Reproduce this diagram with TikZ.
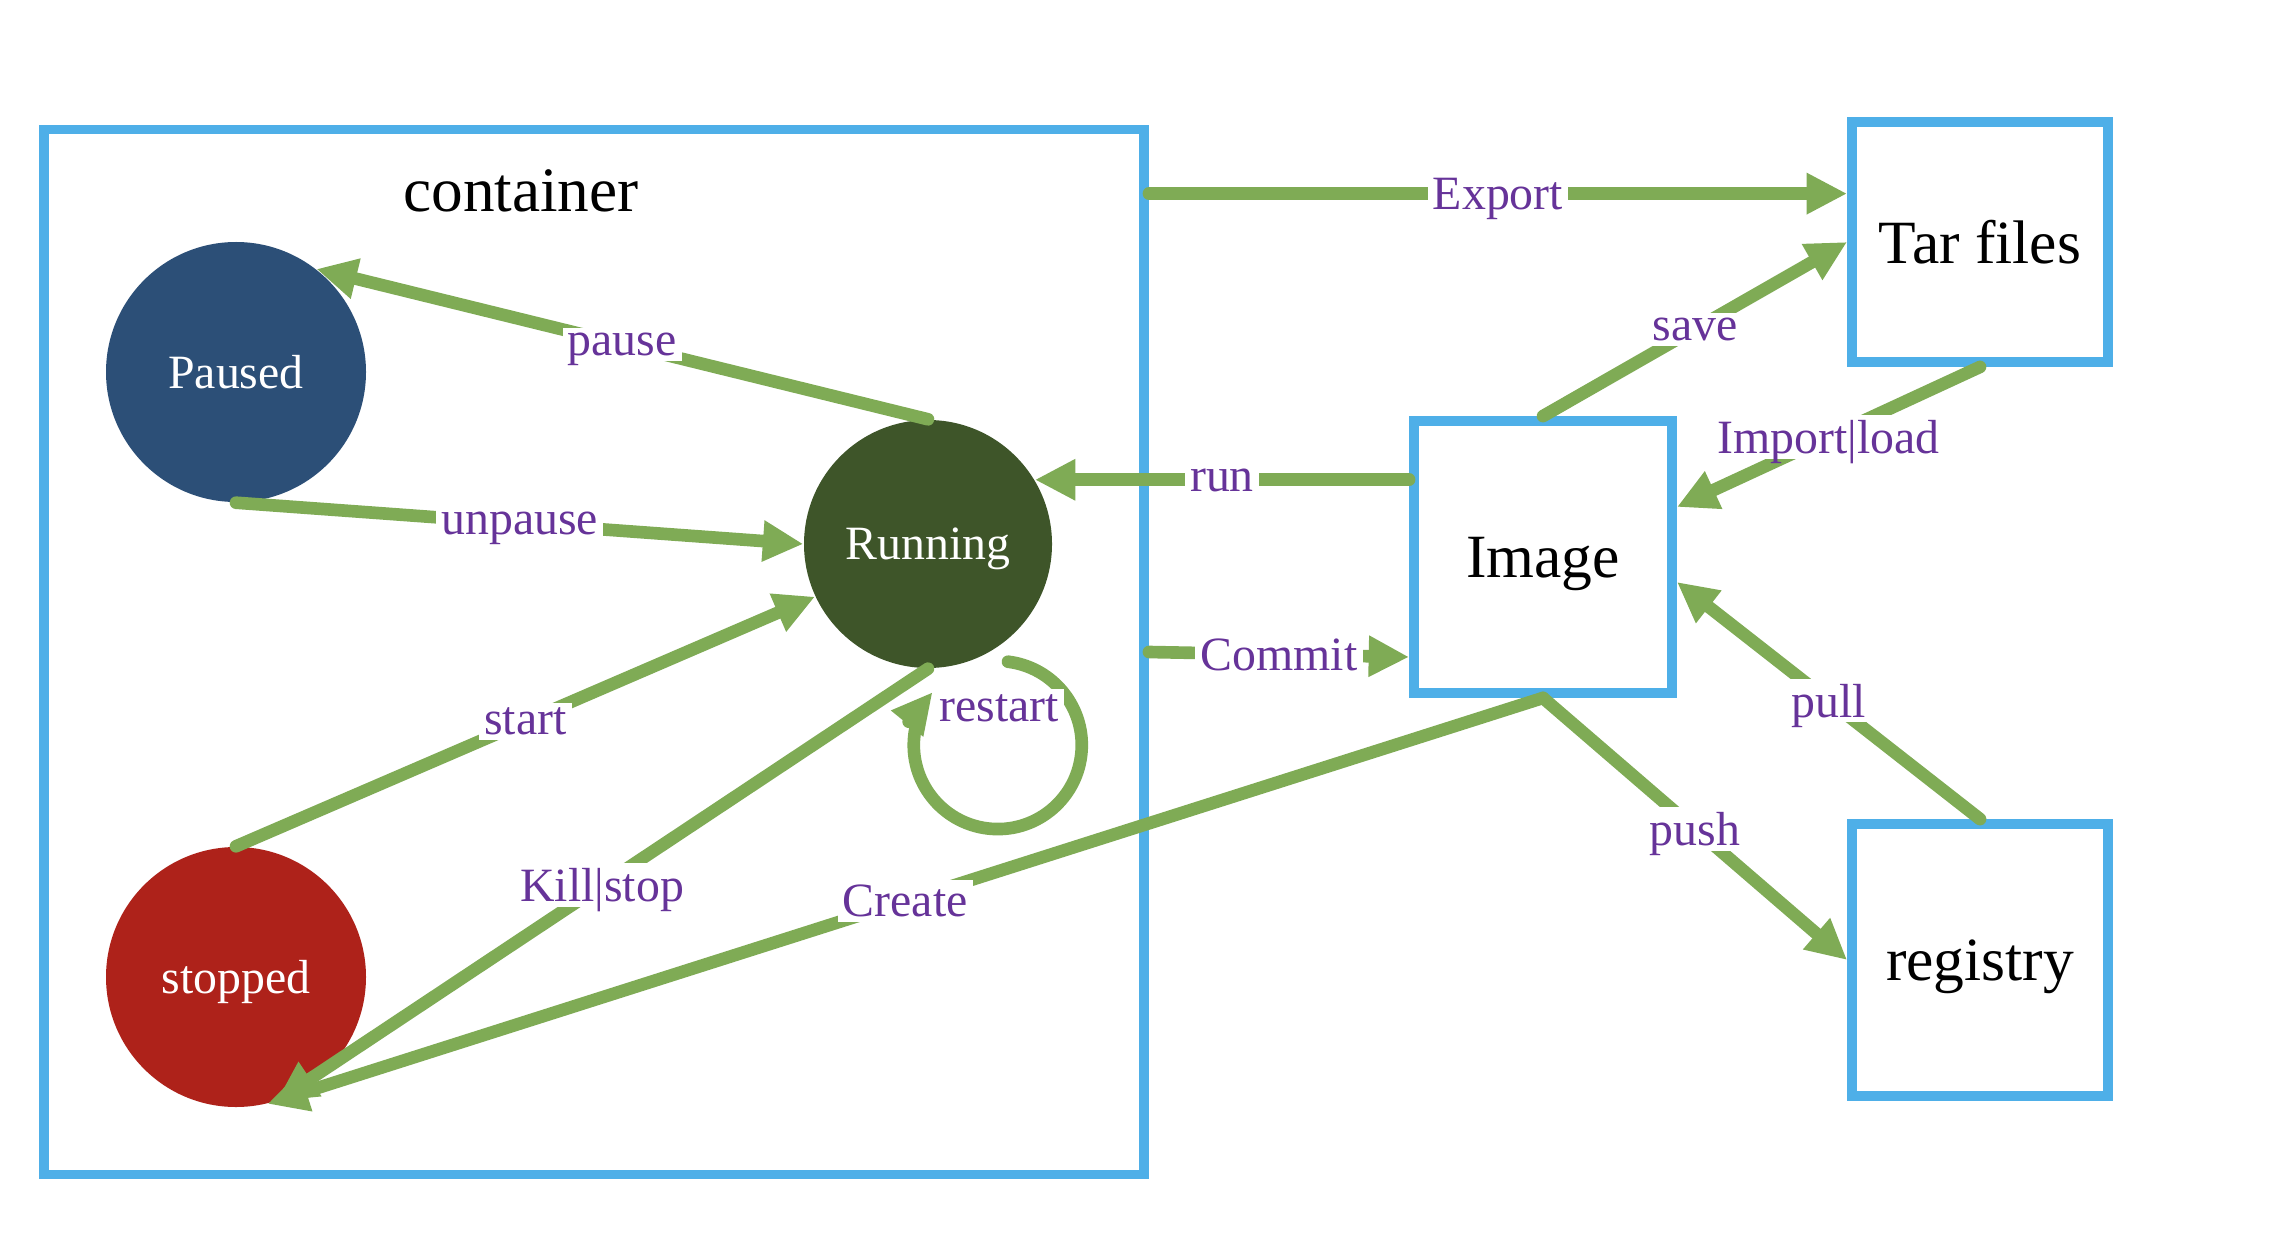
\documentclass[tikz,border=0pt]{standalone}
\usepackage{fontspec}
\setmainfont{Liberation Serif}
\usetikzlibrary{arrows.meta, positioning, calc}
\definecolor{Verde}{RGB}{127,171,85}
\definecolor{Azul}{RGB}{78,175,232}
\definecolor{Morado}{RGB}{102,51,153}
\definecolor{ColPaused}{RGB}{44,79,119}
\definecolor{ColRunning}{RGB}{62,85,41}
\definecolor{ColStopped}{RGB}{174,34,26}

\begin{document}
\begin{tikzpicture}[
  est/.style ={circle, minimum size=2.6cm, inner sep=0pt, text depth=0pt,
               text=white, font=\fontsize{13.6}{16}\selectfont},
  caja/.style={rectangle, draw=Azul, line width=2.8pt, fill=white,
               text depth=0pt, font=\fontsize{17.5}{21}\selectfont},
  arr/.style ={-{Triangle[length=11.5pt, width=11pt]}, line width=3.6pt,
               color=Verde, line cap=round},
  lbl/.style ={fill=white, inner sep=1.5pt, text depth=0pt, text=Morado,
               font=\fontsize{13.6}{16}\selectfont},
]
\useasboundingbox (0,0) rectangle (22.7,12.52);

%% ═══════════════ CONTAINER ═══════════════
\node[caja, minimum width=11.0cm, minimum height=10.45cm] (cont) at (5.94, 6.00) {};
\node[font=\fontsize{18}{22}\selectfont] (ttl) at (5.21, 10.61) {container};

\node[est, fill=ColPaused]                      (pau) at (2.36, 8.80) {Paused};
\node[est, fill=ColRunning, minimum size=2.48cm] (run) at (9.28, 7.08) {Running};
\node[est, fill=ColStopped]                     (stp) at (2.36, 2.75) {stopped};

%% ═══════════════ IMAGE / FILES ═══════════════
\node[caja, minimum width=2.56cm, minimum height=2.40cm] (tar) at (19.80, 10.10) {Tar files};
\node[caja, minimum width=2.58cm, minimum height=2.72cm] (img) at (15.43,  6.95) {Image};
\node[caja, minimum width=2.56cm, minimum height=2.72cm] (reg) at (19.80,  2.92) {registry};

%% ═══ Transiciones del contenedor ═══
\draw[arr] (run.north) -- node[lbl]{pause}   (pau.52);
\draw[arr] (pau.south) -- node[lbl]{unpause} (run.west);
\draw[arr] (stp.north) -- node[lbl]{start}   (run.205);
\draw[arr] (run.south) -- node[lbl]{Kill|stop} (stp.-72);

% restart
\draw[arr] ([xshift=8mm, yshift=0.7mm]run.south)
  arc[start angle=83, end angle=-219, radius=0.84cm];
\node[lbl] (rst) at (9.99, 5.44) {restart};

%% ═══ Contenedor <-> imagen ═══
\draw[arr] (cont.east |- tar.160) -- node[lbl]{Export} (tar.160);
\draw[arr] (img.west |- run.31) -- node[lbl]{run} (run.31);
\draw[arr] (cont.east) -- node[lbl]{Commit} ([yshift=-10mm]img.west);
\draw[arr] (img.south) -- node[lbl]{Create} (stp.-76);

%% ═══ Imagen <-> archivos / registry ═══
\draw[arr] (img.north) -- node[lbl]{save} (tar.west);
\draw[arr] (tar.south) -- node[lbl]{Import|load} ([yshift=5mm]img.east);
\draw[arr] (reg.north) -- node[lbl]{pull} ([yshift=-2.5mm]img.east);
\draw[arr] (img.south) -- node[lbl]{push} (reg.west);

\end{tikzpicture}
\end{document}
